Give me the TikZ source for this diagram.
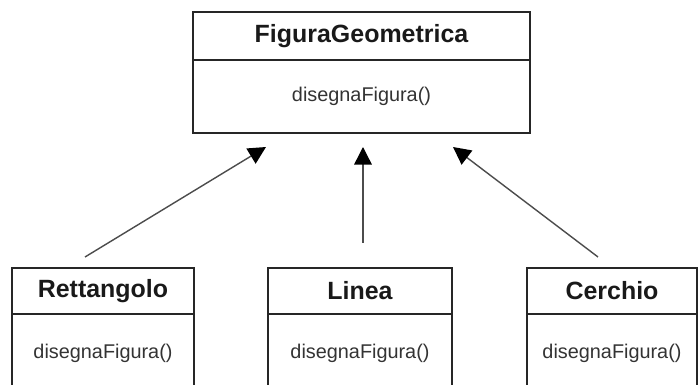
\documentclass[tikz,border=0pt]{standalone}
\usepackage{fontspec}
\setmainfont{Liberation Sans}
\usetikzlibrary{arrows.meta,positioning}

\begin{document}
\begin{tikzpicture}[x=0.02cm,y=-0.02cm,
        cname/.style={draw=black!85,line width=1pt,outer sep=0pt,inner sep=0pt,
                font=\fontsize{14.2}{16}\selectfont\bfseries,text=black!90},
        cbody/.style={draw=black!85,line width=1pt,outer sep=0pt,inner sep=0pt,
                font=\fontsize{11.3}{13}\selectfont,text=black!80},
        inherit/.style={-{Triangle[length=10pt,width=10pt,color=black]},line width=0.8pt,draw=black!70}]

        \useasboundingbox (0,0) rectangle (698,385);
        \clip (0,0) rectangle (698,385);

        \node[cname,minimum width=6.74cm,minimum height=0.96cm]  (FIG)  at (361.5,36)       {FiguraGeometrica};
        \node[cbody,minimum width=6.74cm,minimum height=1.46cm]  (FIGm) [below=0pt of FIG]  {disegnaFigura()};

        \node[cname,minimum width=3.64cm,minimum height=0.92cm]  (RET)  at (103,291)        {Rettangolo};
        \node[cbody,minimum width=3.64cm,minimum height=1.56cm]  (RETm) [below=0pt of RET]  {disegnaFigura()};
        \node[cname,minimum width=3.68cm,minimum height=0.92cm]  (LIN)  at (360,291)        {Linea};
        \node[cbody,minimum width=3.68cm,minimum height=1.56cm]  (LINm) [below=0pt of LIN]  {disegnaFigura()};
        \node[cname,minimum width=3.40cm,minimum height=0.92cm]  (CER)  at (612,291)        {Cerchio};
        \node[cbody,minimum width=3.40cm,minimum height=1.56cm]  (CERm) [below=0pt of CER]  {disegnaFigura()};

        \coordinate (RETa) at (85,257);   \coordinate (RETb) at (266,147);
        \coordinate (LINa) at (363,243);  \coordinate (LINb) at (363,147);
        \coordinate (CERa) at (598,257);  \coordinate (CERb) at (453,147);

        \path   (RETa) edge [inherit] (RETb)
                (LINa) edge [inherit] (LINb)
                (CERa) edge [inherit] (CERb);
\end{tikzpicture}
\end{document}
